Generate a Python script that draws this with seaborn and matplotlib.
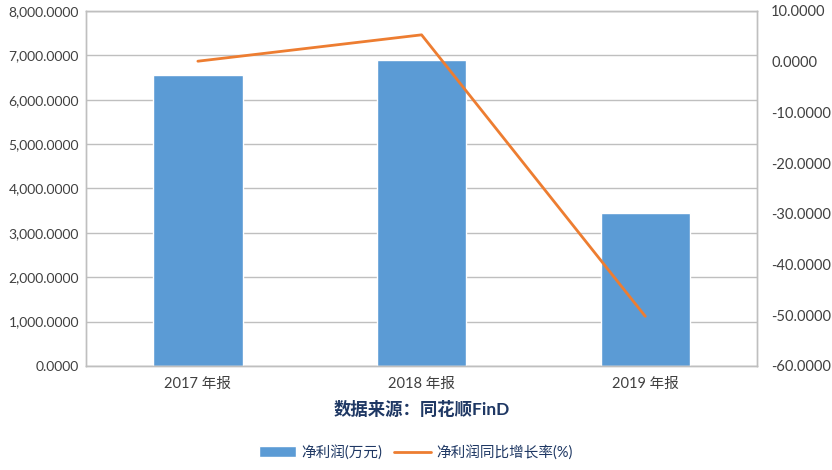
import matplotlib
matplotlib.use("Agg")
import matplotlib.pyplot as plt
import seaborn as sns
import pandas as pd
from matplotlib.ticker import FuncFormatter, MultipleLocator
from matplotlib.patches import Patch
from matplotlib.lines import Line2D

# data
periods = ["2017 年报", "2018 年报", "2019 年报"]
net_profit = [6550, 6890, 3440]          # 万元
growth_rate = [0.1, 5.3, -50.2]          # %

df = pd.DataFrame({"period": periods, "profit": net_profit, "growth": growth_rate})

sns.set_style("white")
plt.rcParams['font.family'] = ['Lato', 'Noto Sans CJK SC', 'DejaVu Sans']

bar_color = "#5B9BD5"
line_color = "#ED7D31"
text_color = "#404040"
grid_color = "#BFBFBF"

fig = plt.figure(figsize=(8.32, 4.7), dpi=100)
ax = fig.add_axes([0.1034, 0.2213, 0.8066, 0.7553])

sns.barplot(data=df, x="period", y="profit", color=bar_color, width=0.4,
            saturation=1, ax=ax, zorder=2)
ax.set_ylim(0, 8000)
ax.yaxis.set_major_locator(MultipleLocator(1000))
ax.yaxis.set_major_formatter(FuncFormatter(lambda v, p: f"{v:,.4f}"))
ax.grid(axis="y", color=grid_color, linewidth=1, zorder=0)
ax.set_axisbelow(True)
ax.set_xlabel("")
ax.set_ylabel("")
ax.set_xlim(-0.5, 2.5)
ax.tick_params(axis="x", length=0, labelsize=10.5, colors=text_color, pad=8)
ax.tick_params(axis="y", length=0, labelsize=10, colors=text_color, pad=5)

ax2 = ax.twinx()
sns.lineplot(x=[0, 1, 2], y=growth_rate, color=line_color, linewidth=2, ax=ax2)
ax2.set_ylim(-60, 10)
ax2.yaxis.set_major_locator(MultipleLocator(10))
ax2.yaxis.set_major_formatter(FuncFormatter(lambda v, p: f"{v:.4f}"))
ax2.tick_params(axis="y", length=0, labelsize=10.5, colors=text_color, pad=10)
ax2.set_xlim(-0.5, 2.5)

for a in (ax, ax2):
    for s in a.spines.values():
        s.set_color(grid_color)
        s.set_linewidth(1)

fig.text(0.507, 0.128, "数据来源：同花顺FinD", ha="center", va="center",
         fontsize=12.5, fontweight="bold", color="#1F3864")

handles = [Patch(facecolor=bar_color, label="净利润(万元)"),
           Line2D([0], [0], color=line_color, linewidth=2, label="净利润同比增长率(%)")]
fig.legend(handles=handles, loc="center", bbox_to_anchor=(0.5, 0.038), ncol=2,
           frameon=False, fontsize=10.5, handlelength=2.5, columnspacing=0.8,
           handletextpad=0.4, labelcolor="#1F3864")

fig.savefig("out.png", dpi=100)
